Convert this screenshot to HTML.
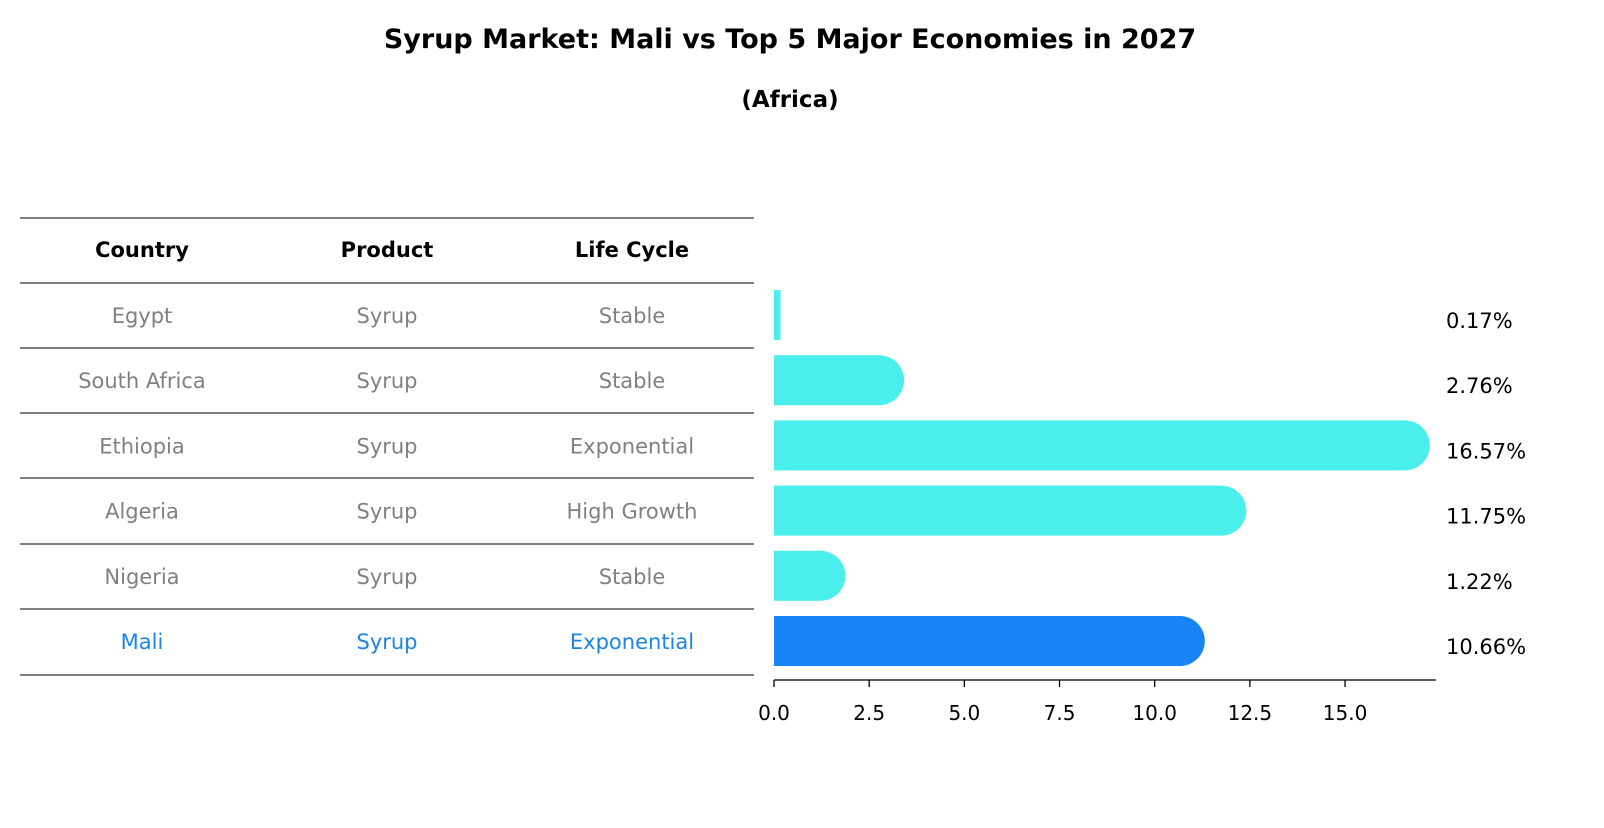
<!DOCTYPE html>
<html><head><meta charset="utf-8"><style>
body{margin:0;background:#fff;font-family:"Liberation Sans","DejaVu Sans",sans-serif;}
</style></head><body>
<svg width="1604" height="823" xmlns="http://www.w3.org/2000/svg" font-family="DejaVu Sans, Liberation Sans, sans-serif">
<text x="790" y="48" text-anchor="middle" font-size="27" font-weight="bold">Syrup Market: Mali vs Top 5 Major Economies in 2027</text>
<text x="790" y="107" text-anchor="middle" font-size="23" font-weight="bold">(Africa)</text>
<g id="table"></g>
<g id="bars"></g>
</svg>
<script>
const countries=["Egypt","South Africa","Ethiopia","Algeria","Nigeria","Mali"];
const products=["Syrup","Syrup","Syrup","Syrup","Syrup","Syrup"];
const lifecycles=["Stable","Stable","Exponential","High Growth","Stable","Exponential"];
const values=[0.17,2.76,16.57,11.75,1.22,10.66];
const ticks=[0,2.5,5,7.5,10,12.5,15];
const NS="http://www.w3.org/2000/svg";
function mk(t,a,p){const e=document.createElementNS(NS,t);for(const k in a)e.setAttribute(k,a[k]);p.appendChild(e);return e;}
const x=v=>774+v*38.07;
const rowY=i=>315+i*65.2;
const tb=document.getElementById('table'),bg=document.getElementById('bars');
const lines=[218,283,348,413,478,544,609,675];
lines.forEach(y=>{const l=mk('line',{x1:20,x2:754,y1:y,y2:y,stroke:'#000','stroke-width':1},tb);

});
const cx=[142,387,632];
["Country","Product","Life Cycle"].forEach((h,j)=>{const t=mk('text',{x:cx[j],y:257,'text-anchor':'middle','font-size':21,'font-weight':'bold'},tb);t.textContent=h;

});
countries.forEach((c,i)=>{
 const col=i===5?'#1a84e8':'#808080';
 [c,products[i],lifecycles[i]].forEach((s,j)=>{const t=mk('text',{x:cx[j],y:rowY(i)+8,'text-anchor':'middle','font-size':21,fill:col},tb);t.textContent=s;
 
 });
 const fill=i===5?'#1984f5':'#4aeeea';
 const v=values[i],y0=rowY(i)-25;
 const w=x(v)-x(0);
 const r=mk('rect',{x:x(0),y:y0,width:Math.max(w,1),height:50,fill:fill},bg);
 
 
 if(v>=1){const ci=mk('circle',{cx:x(v),cy:rowY(i),r:25,fill:fill},bg);
 
 }
 const t=mk('text',{x:1446,y:rowY(i)+13,'font-size':21},bg);t.textContent=v.toFixed(2)+'%';
 
 
});
const ax=mk('line',{x1:774,x2:1436,y1:680,y2:680,stroke:'#000','stroke-width':1.3},bg);


ticks.forEach(v=>{const l=mk('line',{x1:x(v),x2:x(v),y1:680,y2:687,stroke:'#000','stroke-width':1.3},bg);


const t=mk('text',{x:x(v),y:720,'text-anchor':'middle','font-size':20},bg);t.textContent=v.toFixed(1);

});
</script>
</body></html>
